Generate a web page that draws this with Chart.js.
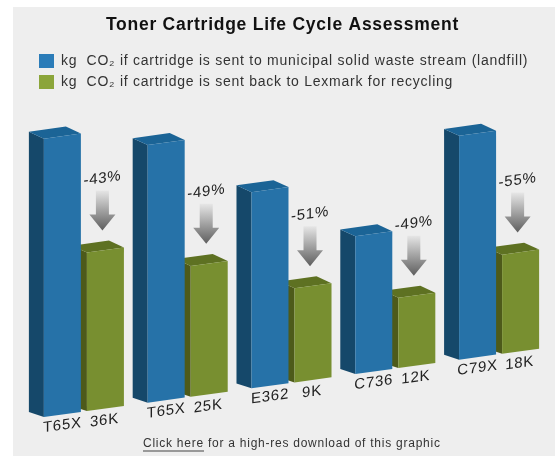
<!DOCTYPE html>
<html>
<head>
<meta charset="utf-8">
<script src="https://cdn.jsdelivr.net/npm/chart.js@4"></script>
<style>
  html, body { margin: 0; background: #fff; }
  #panel { position: absolute; left: 13px; top: 7px; width: 542px; height: 449px; background: #eeeeee; }
  #wrap { position: absolute; left: 0; top: 0; width: 559px; height: 456px; filter: blur(0.5px); }
  #note { position: absolute; left: 143px; top: 436px; font: 12px "Liberation Sans", sans-serif; letter-spacing: 0.75px; color: #333; white-space: nowrap; }
  #note a { color: #333; border-bottom: 2px solid #999; }
</style>
</head>
<body>
<div id="panel"></div>
<div id="wrap">
  <canvas id="chart" width="559" height="456"></canvas>
  <div id="note"><a>Click here</a> for a high-res download of this graphic</div>
</div>
<script>
const models = ['T65X', 'T65X', 'E362', 'C736', 'C79X'];
const yields = ['36K', '25K', '9K', '12K', '18K'];
const landfill = [281, 260, 198, 139, 226];
const recycled = [160, 132, 95, 71, 100];
const drops = ['-43%', '-49%', '-51%', '-49%', '-55%'];
const seriesNames = [
    'kg  CO₂ if cartridge is sent to municipal solid waste stream (landfill)',
    'kg  CO₂ if cartridge is sent back to Lexmark for recycling',
];

const slant = -0.138;      // whole bar row tilts up to the right
const depthX = -15;
const depthY = -9;

const shades = {
    0: {front: '#2672a8', side: '#15486a', top: '#1b6496', key: '#2b7cb8'},
    1: {front: '#788f30', side: '#4d5a1a', top: '#5e7122', key: '#8ba53a'},
};

function face(ctx, color, pts) {
    ctx.fillStyle = color;
    ctx.beginPath();
    pts.forEach((p, i) => i ? ctx.lineTo(p[0], p[1]) : ctx.moveTo(p[0], p[1]));
    ctx.closePath();
    ctx.fill();
}

const tilted3d = {
    id: 'tilted3d',
    afterLayout(chart) {
        // title sits a bit left of the bars' centre
        chart.titleBlock.left -= 9;
        chart.titleBlock.right -= 9;
    },
    beforeDraw(chart) {
        chart.ctx.letterSpacing = '0.75px';
    },
    beforeDatasetsDraw(chart) {
        const ctx = chart.ctx;
        ctx.save();
        ctx.transform(1, slant, 0, 1, 0, -slant * 44);
    },
    beforeDatasetDraw(chart, args) {
        const ctx = chart.ctx;
        const c = shades[args.index];
        args.meta.data.forEach(bar => {
            const l = bar.x - bar.width / 2, r = bar.x + bar.width / 2;
            face(ctx, c.side, [[l, bar.y], [l + depthX, bar.y + depthY], [l + depthX, bar.base + depthY + 2], [l, bar.base]]);
            face(ctx, c.top, [[l, bar.y], [l + depthX, bar.y + depthY], [r + depthX, bar.y + depthY], [r, bar.y]]);
        });
    },
    afterDatasetsDraw(chart) {
        const ctx = chart.ctx;
        const blue = chart.getDatasetMeta(0).data;
        const green = chart.getDatasetMeta(1).data;
        ctx.fillStyle = '#222';
        ctx.textAlign = 'center';
        ctx.textBaseline = 'middle';
        ctx.font = '15px "Liberation Sans"';
        models.forEach((m, i) => {
            ctx.fillText(m, blue[i].x, blue[i].base + 11);
            ctx.fillText(yields[i], green[i].x - 1, green[i].base + 12);
            ctx.fillText(drops[i], green[i].x - 3, green[i].y - 72);
        });
        ctx.restore();
        // the arrows stay upright, only their position follows the tilt
        green.forEach(bar => {
            const cx = bar.x - 3, tip = bar.y - 20 + slant * (cx - 44);
            const g = ctx.createLinearGradient(0, tip - 40, 0, tip);
            g.addColorStop(0, '#e6e6e6');
            g.addColorStop(1, '#5e5e5e');
            face(ctx, g, [[cx - 6.5, tip - 40], [cx + 6.5, tip - 40], [cx + 6.5, tip - 16], [cx + 13, tip - 16],
                [cx, tip], [cx - 13, tip - 16], [cx - 6.5, tip - 16]]);
        });
    },
};

new Chart(document.getElementById('chart'), {
    type: 'bar',
    plugins: [tilted3d],
    data: {
        labels: models.map((m, i) => m + ' ' + yields[i]),
        datasets: [
            {label: seriesNames[0], data: landfill, backgroundColor: shades[0].front, clip: false},
            {label: seriesNames[1], data: recycled, backgroundColor: shades[1].front, clip: false},
        ],
    },
    options: {
        responsive: false,
        animation: false,
        layout: {padding: {left: 32, right: 8, top: 15, bottom: 39}},
        datasets: {bar: {categoryPercentage: 0.829, barPercentage: 0.86}},
        scales: {
            x: {display: false},
            y: {display: false, min: 0, max: 321},
        },
        plugins: {
            tooltip: {enabled: false},
            title: {
                display: true,
                text: 'Toner Cartridge Life Cycle Assessment',
                color: '#111',
                font: {family: '"Liberation Sans"', size: 17.5, weight: 'bold'},
                padding: {top: 0, bottom: 11},
            },
            legend: {
                position: 'top',
                align: 'start',
                labels: {
                    boxWidth: 15,
                    boxHeight: 14,
                    padding: 7,
                    color: '#333',
                    font: {family: '"Liberation Sans"', size: 14},
                    generateLabels: chart => chart.data.datasets.map((d, i) => ({
                        text: d.label,
                        fillStyle: shades[i].key,
                        strokeStyle: shades[i].key,
                        lineWidth: 0,
                        fontColor: '#333',
                        datasetIndex: i,
                    })),
                },
            },
        },
    },
});
</script>
</body>
</html>
